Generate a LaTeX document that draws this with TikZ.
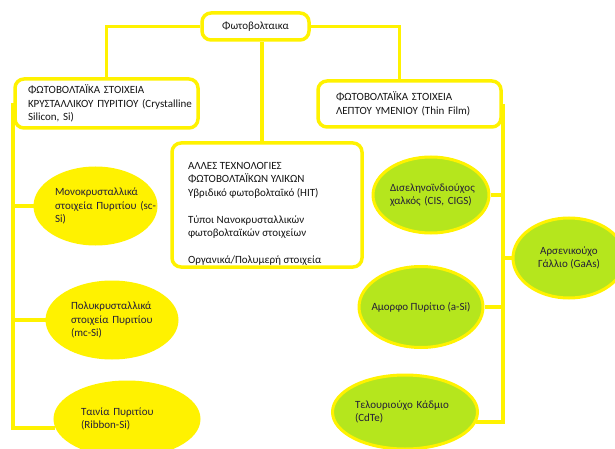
\documentclass[tikz,border=0pt]{standalone}
\usepackage{fontspec}
\setmainfont{Carlito}
\usepackage{tikz}
\usetikzlibrary{shapes.geometric,positioning,calc}
\hyphenpenalty=10000
\exhyphenpenalty=10000
\definecolor{pvyellow}{HTML}{FFF200}
\definecolor{pvgreen}{HTML}{B5E61D}
\definecolor{pvtext}{HTML}{141414}
\definecolor{pvoval}{HTML}{241E38}
\tikzset{
  rbox/.style={rectangle, rounded corners=9pt, draw=pvyellow, line width=3.5pt, fill=white,
               align=left, text=pvtext, font=\fontsize{11}{13.5}\selectfont, inner sep=0pt},
  oval/.style={ellipse, draw=pvyellow, line width=3pt, fill=#1, inner sep=0pt,
               align=left, text=pvoval, font=\fontsize{11}{13.5}\selectfont},
  link/.style={draw=pvyellow, line width=3.8pt},
}
\begin{document}
\begin{tikzpicture}[x=1pt, y=-1pt]
        \useasboundingbox (0,0) rectangle (615,449);
        \fill[white] (0,0) rectangle (615,449);
        \clip (0,0) rectangle (615,449);
        % boxes
        \node[rbox, minimum width=107, minimum height=27, align=center] (pv) at (255.5,26.5) {Φωτοβολταικα};
        \node[rbox, minimum width=183, minimum height=49, text width=157] (cryst) at (106.5,103.5)
          {ΦΩΤΟΒΟΛΤΑΪΚΑ~ΣΤΟΙΧΕΙΑ\\ΚΡΥΣΤΑΛΛΙΚΟΥ~ΠΥΡΙΤΙΟΥ~(Crystalline\\Silicon,~Si)};
        \node[rbox, minimum width=183, minimum height=46, text width=147] (thin) at (409.5,104)
          {ΦΩΤΟΒΟΛΤΑΪΚΑ~ΣΤΟΙΧΕΙΑ\\ΛΕΠΤΟΥ~ΥΜΕΝΙΟΥ~(Thin~Film)};
        \node[rbox, minimum width=190, minimum height=124] (other) at (267,205) {};
        \node[rbox, draw=none, fill=none, anchor=north west] (othertext) at ([xshift=16pt,yshift=-19pt]other.north west)
          {ΑΛΛΕΣ ΤΕΧΝΟΛΟΓΙΕΣ\\ΦΩΤΟΒΟΛΤΑΪΚΩΝ ΥΛΙΚΩΝ\\Υβριδικό φωτοβολταϊκό (HIT)\\[13.5pt]
           Τύποι Νανοκρυσταλλικών\\φωτοβολταϊκών στοιχείων\\[13.5pt]Οργανικά/Πολυμερή στοιχεία};
        % ovals
        \node[oval=pvyellow, minimum width=121, minimum height=76, text width=81] (mono) at (95.5,206)
          {Μονοκρυσταλλικά\\στοιχεία~Πυριτίου~(sc-\\Si)};
        \node[oval=pvyellow, minimum width=130, minimum height=76, text width=82] (poly) at (112,320)
          {Πολυκρυσταλλικά\\στοιχεία~Πυριτίου\\(mc-Si)};
        \node[oval=pvyellow, minimum width=144, minimum height=74, text width=92] (ribbon) at (127,419)
          {Ταινία~Πυριτίου\\(Ribbon-Si)};
        \node[oval=pvgreen, minimum width=116, minimum height=76, text width=82] (cis) at (431,195)
          {Δισεληνοϊνδιούχος\\χαλκός~(CIS,~CIGS)};
        \node[oval=pvgreen, minimum width=112, minimum height=80, align=center] (gaas) at (569,258)
          {Αρσενικούχο\\Γάλλιο (GaAs)};
        \node[oval=pvgreen, minimum width=124, minimum height=81, align=center, inner xsep=-14pt] (amorph) at (421,307)
          {Αμορφο Πυρίτιο (a-Si)};
        \node[oval=pvgreen, minimum width=145, minimum height=74, text width=100] (cdte) at (405,412)
          {Τελουριούχο~Κάδμιο\\(CdTe)};
        % connectors
        \draw[link] (pv.west) -| (cryst.north);
        \draw[link] (pv.east) -| ([xshift=-10pt]thin.north);
        \draw[link] ([xshift=-5pt]other.north) -- ([xshift=-5pt]other.north |- pv.south);
        \draw[link] (cryst.west) |- (ribbon.187);
        \draw[link] (mono.west) -- (mono.west -| cryst.west);
        \draw[link] (poly.west) -- (poly.west -| cryst.west);
        \draw[link] (thin.east) |- (cdte.352);
        \draw[link] (cis.east) -- (cis.east -| thin.east);
        \draw[link] (gaas.west) -- (gaas.west -| thin.east);
        \draw[link] (amorph.east) -- (amorph.east -| thin.east);
      \end{tikzpicture}
\end{document}
